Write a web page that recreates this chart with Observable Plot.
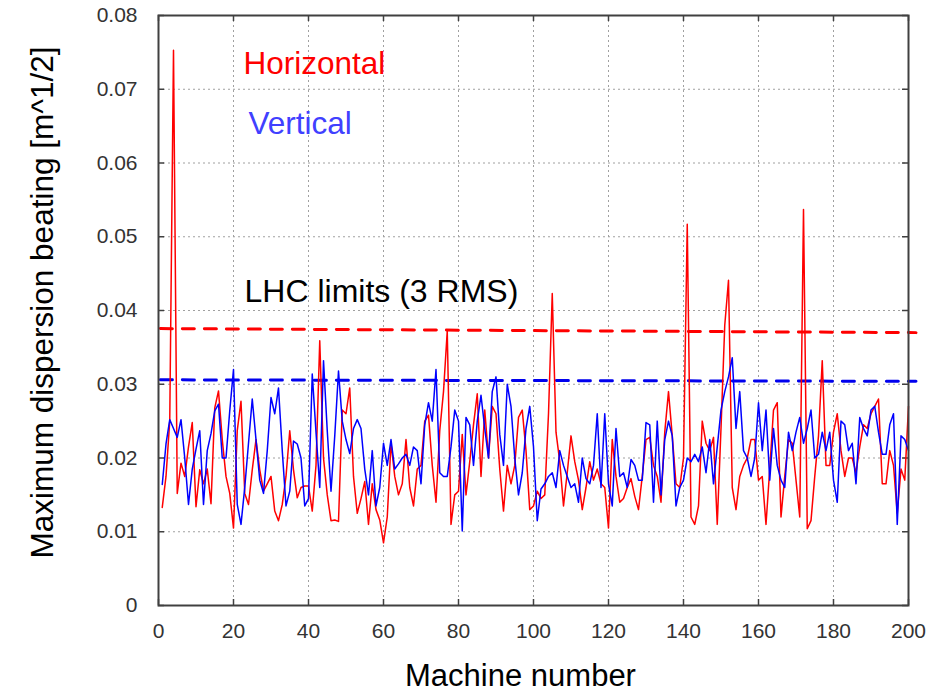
<!DOCTYPE html>
<html>
<head>
<meta charset="utf-8">
<script src="https://cdn.jsdelivr.net/npm/d3@7"></script>
<script src="https://cdn.jsdelivr.net/npm/@observablehq/plot@0.6"></script>
<style>
  html, body { margin: 0; padding: 0; background: #fff; }
</style>
</head>
<body>
<div id="chart"></div>
<script>
const machine = d3.range(1, 201);

const horizontal = [
  0.0133, 0.0175, 0.0250, 0.0753, 0.0152, 0.0193, 0.0175, 0.0215, 0.0248, 0.0134,
  0.0184, 0.0165, 0.0185, 0.0138, 0.0268, 0.0291, 0.0225, 0.0175, 0.0152, 0.0105,
  0.0237, 0.0277, 0.0152, 0.0137, 0.0184, 0.0225, 0.0184, 0.0155, 0.0165, 0.0175,
  0.0128, 0.0115, 0.0137, 0.0175, 0.0237, 0.0184, 0.0146, 0.0160, 0.0162, 0.0162,
  0.0128, 0.0190, 0.0359, 0.0200, 0.0150, 0.0115, 0.0116, 0.0114, 0.0265, 0.0260,
  0.0295, 0.0175, 0.0125, 0.0145, 0.0168, 0.0110, 0.0165, 0.0130, 0.0116, 0.0085,
  0.0120, 0.0220, 0.0175, 0.0150, 0.0165, 0.0225, 0.0160, 0.0135, 0.0185, 0.0190,
  0.0250, 0.0258, 0.0190, 0.0140, 0.0237, 0.0290, 0.0372, 0.0110, 0.0150, 0.0155,
  0.0232, 0.0150, 0.0195, 0.0245, 0.0287, 0.0175, 0.0265, 0.0200, 0.0270, 0.0260,
  0.0185, 0.0128, 0.0190, 0.0165, 0.0190, 0.0255, 0.0265, 0.0210, 0.0130, 0.0135,
  0.0155, 0.0145, 0.0150, 0.0260, 0.0423, 0.0235, 0.0195, 0.0135, 0.0180, 0.0230,
  0.0195, 0.0170, 0.0130, 0.0160, 0.0195, 0.0170, 0.0185, 0.0165, 0.0160, 0.0105,
  0.0225, 0.0175, 0.0140, 0.0145, 0.0160, 0.0172, 0.0148, 0.0130, 0.0175, 0.0225,
  0.0228, 0.0190, 0.0175, 0.0140, 0.0235, 0.0290, 0.0230, 0.0165, 0.0160, 0.0200,
  0.0517, 0.0120, 0.0110, 0.0135, 0.0250, 0.0220, 0.0210, 0.0228, 0.0110, 0.0240,
  0.0380, 0.0441, 0.0160, 0.0130, 0.0175, 0.0190, 0.0200, 0.0225, 0.0225, 0.0170,
  0.0175, 0.0110, 0.0185, 0.0265, 0.0275, 0.0120, 0.0175, 0.0225, 0.0220, 0.0170,
  0.0120, 0.0537, 0.0104, 0.0115, 0.0175, 0.0230, 0.0332, 0.0190, 0.0190, 0.0235,
  0.0260, 0.0210, 0.0175, 0.0200, 0.0200, 0.0180, 0.0215, 0.0245, 0.0240, 0.0260,
  0.0270, 0.0280, 0.0165, 0.0165, 0.0210, 0.0190, 0.0125, 0.0185, 0.0170, 0.0270
];

const vertical = [
  0.0164, 0.0219, 0.0252, 0.0240, 0.0228, 0.0252, 0.0200, 0.0137, 0.0185, 0.0212,
  0.0237, 0.0137, 0.0210, 0.0233, 0.0264, 0.0273, 0.0200, 0.0200, 0.0264, 0.0320,
  0.0137, 0.0110, 0.0160, 0.0220, 0.0280, 0.0225, 0.0170, 0.0152, 0.0210, 0.0282,
  0.0260, 0.0295, 0.0210, 0.0135, 0.0155, 0.0223, 0.0219, 0.0200, 0.0135, 0.0145,
  0.0314, 0.0235, 0.0160, 0.0332, 0.0237, 0.0155, 0.0230, 0.0318, 0.0250, 0.0225,
  0.0206, 0.0240, 0.0252, 0.0240, 0.0185, 0.0150, 0.0210, 0.0135, 0.0160, 0.0220,
  0.0190, 0.0225, 0.0185, 0.0192, 0.0200, 0.0205, 0.0190, 0.0215, 0.0210, 0.0165,
  0.0245, 0.0275, 0.0250, 0.0320, 0.0180, 0.0175, 0.0175, 0.0215, 0.0265, 0.0250,
  0.0101, 0.0255, 0.0245, 0.0190, 0.0250, 0.0285, 0.0240, 0.0200, 0.0290, 0.0310,
  0.0232, 0.0190, 0.0300, 0.0270, 0.0200, 0.0150, 0.0180, 0.0240, 0.0270, 0.0215,
  0.0115, 0.0158, 0.0165, 0.0175, 0.0180, 0.0160, 0.0210, 0.0190, 0.0175, 0.0160,
  0.0165, 0.0140, 0.0200, 0.0172, 0.0165, 0.0190, 0.0260, 0.0160, 0.0260, 0.0165,
  0.0135, 0.0240, 0.0175, 0.0180, 0.0160, 0.0198, 0.0190, 0.0170, 0.0170, 0.0248,
  0.0245, 0.0140, 0.0250, 0.0150, 0.0225, 0.0250, 0.0230, 0.0135, 0.0160, 0.0170,
  0.0200, 0.0195, 0.0205, 0.0195, 0.0215, 0.0180, 0.0225, 0.0165, 0.0215, 0.0265,
  0.0290, 0.0310, 0.0336, 0.0240, 0.0290, 0.0210, 0.0200, 0.0175, 0.0200, 0.0275,
  0.0210, 0.0265, 0.0170, 0.0240, 0.0190, 0.0170, 0.0160, 0.0235, 0.0210, 0.0235,
  0.0255, 0.0220, 0.0240, 0.0265, 0.0200, 0.0205, 0.0235, 0.0210, 0.0235, 0.0170,
  0.0140, 0.0250, 0.0245, 0.0210, 0.0220, 0.0165, 0.0255, 0.0240, 0.0230, 0.0265,
  0.0270, 0.0235, 0.0205, 0.0205, 0.0245, 0.0260, 0.0110, 0.0230, 0.0225, 0.0210
];

// LHC limits (3 RMS), drawn as dashed lines
const limitX = [0.5, 202];
const hLimit = [0.03755, 0.0370];
const vLimit = [0.0306, 0.0304];

const xTicks = [0, 20, 40, 60, 80, 100, 120, 140, 160, 180, 200];
const yTicks = [0, 0.01, 0.02, 0.03, 0.04, 0.05, 0.06, 0.07, 0.08];

const xTitle = "Machine number";
const yTitle = "Maximum dispersion beating [m^1/2]";
const legendH = "Horizontal";
const legendV = "Vertical";
const limitLabel = "LHC limits (3 RMS)";

const width = 946, height = 691;
const margin = {left: 158, right: 38, top: 15, bottom: 86};
const plotW = width - margin.left - margin.right;
const plotH = height - margin.top - margin.bottom;
const tickLen = 6;
const font = "'Liberation Sans', Arial, Helvetica, sans-serif";

const hLimitData = limitX.map((x, i) => ({x, y: hLimit[i]}));
const vLimitData = limitX.map((x, i) => ({x, y: vLimit[i]}));

const chart = Plot.plot({
  width, height,
  marginLeft: margin.left, marginRight: margin.right,
  marginTop: margin.top, marginBottom: margin.bottom,
  x: {domain: [0, 200], axis: null},
  y: {domain: [0, 0.08], axis: null},
  style: {fontFamily: font, background: "#fff", overflow: "visible"},
  marks: [
    // grid
    Plot.ruleX(xTicks.slice(1, -1), {x: d => d, stroke: "#a0a0a0", strokeWidth: 1, strokeDasharray: "2,3"}),
    Plot.ruleY(yTicks.slice(1, -1), {y: d => d, stroke: "#a0a0a0", strokeWidth: 1, strokeDasharray: "2,3"}),
    // inward ticks on all four sides
    Plot.tickX(xTicks, {x: d => d, insetTop: plotH - tickLen, stroke: "#404040", strokeWidth: 1.5}),
    Plot.tickX(xTicks, {x: d => d, insetBottom: plotH - tickLen, stroke: "#404040", strokeWidth: 1.5}),
    Plot.tickY(yTicks, {y: d => d, insetRight: plotW - tickLen, stroke: "#404040", strokeWidth: 1.5}),
    Plot.tickY(yTicks, {y: d => d, insetLeft: plotW - tickLen, stroke: "#404040", strokeWidth: 1.5}),
    // limits
    Plot.line(hLimitData, {x: "x", y: "y", stroke: "#ff0000", strokeWidth: 3, strokeDasharray: "12,10"}),
    Plot.line(vLimitData, {x: "x", y: "y", stroke: "#0000ee", strokeWidth: 3, strokeDasharray: "12,10"}),
    // data
    Plot.lineY(horizontal, {x: machine, stroke: "#ff0000", strokeWidth: 1.5}),
    Plot.lineY(vertical, {x: machine, stroke: "#0000ff", strokeWidth: 1.5}),
    // frame
    Plot.frame({stroke: "#404040", strokeWidth: 2}),
    // tick labels
    Plot.text(xTicks, {x: d => d, text: d => String(d), frameAnchor: "bottom", dy: 32, fontSize: 21, fill: "#333"}),
    Plot.text(yTicks, {y: d => d, text: d => d === 0 ? "0" : d.toFixed(2), frameAnchor: "left", dx: -21, textAnchor: "end", fontSize: 21, fill: "#333"}),
    // axis titles
    Plot.text([xTitle], {text: d => d, frameAnchor: "bottom", dx: -13, dy: 80, lineAnchor: "bottom", textAnchor: "middle", fontSize: 31, fill: "#000"}),
    Plot.text([yTitle], {text: d => d, frameAnchor: "left", rotate: -90, dx: -106, dy: -8, lineAnchor: "bottom", textAnchor: "middle", fontSize: 31.5, fill: "#000"}),
    // legend / annotations
    Plot.text([legendH], {text: d => d, frameAnchor: "top-left", dx: 85, dy: 58, lineAnchor: "bottom", textAnchor: "start", fontSize: 31.5, fill: "#ff0000"}),
    Plot.text([legendV], {text: d => d, frameAnchor: "top-left", dx: 90, dy: 118, lineAnchor: "bottom", textAnchor: "start", fontSize: 31.5, fill: "#4040ff"}),
    Plot.text([limitLabel], {text: d => d, frameAnchor: "top-left", dx: 86, dy: 286, lineAnchor: "bottom", textAnchor: "start", fontSize: 32, fill: "#000"})
  ]
});

document.getElementById("chart").appendChild(chart);
</script>
</body>
</html>
